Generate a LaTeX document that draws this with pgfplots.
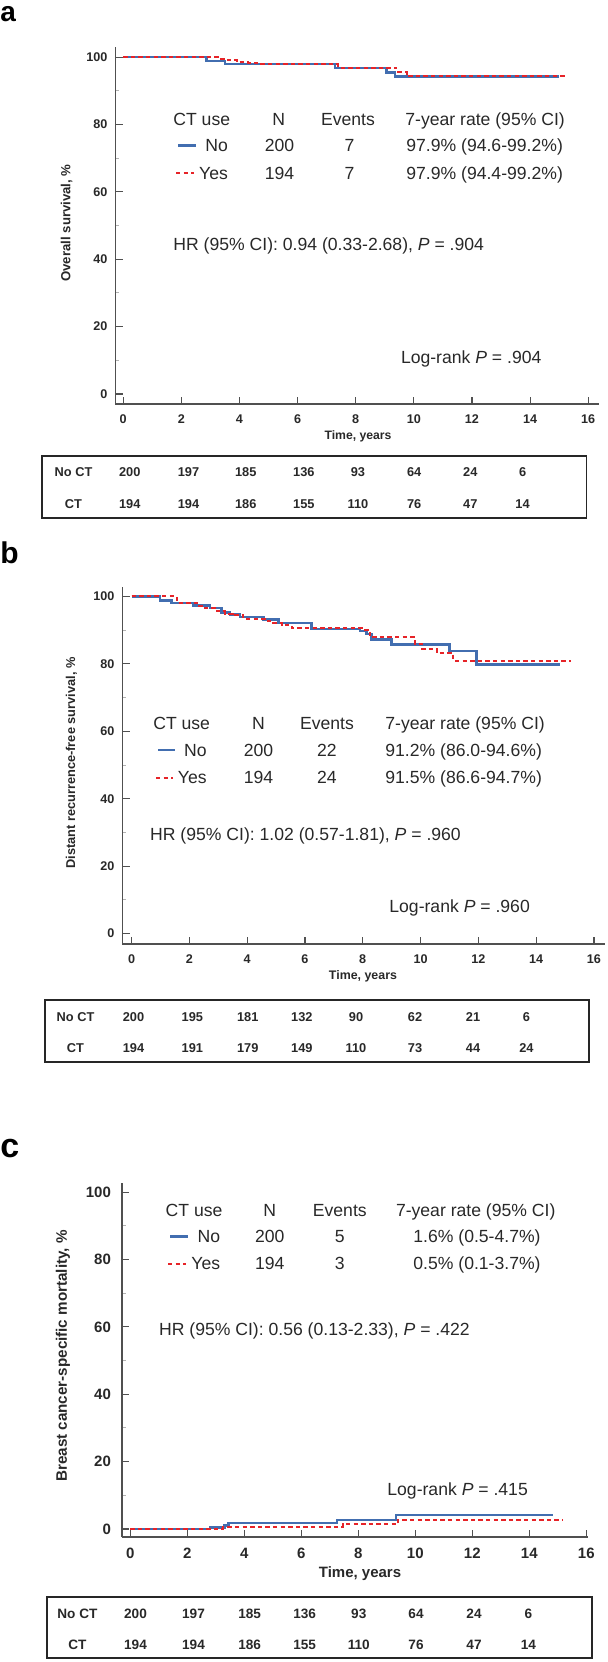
\documentclass[border=0pt]{standalone}
\usepackage{pgfplots}
\pgfplotsset{compat=1.18}
\usepackage{fontspec}
\setmainfont{Liberation Sans}
\definecolor{kmblue}{RGB}{66,110,176}
\definecolor{kmred}{RGB}{230,35,40}
\definecolor{axgray}{RGB}{80,80,80}
\definecolor{txt}{RGB}{40,40,40}
\newcommand{\fsz}[1]{\fontsize{#1}{#1}\selectfont}

\pgfplotsset{
  km/.style={
    scale only axis,
    anchor=south west,
    axis x line=bottom, axis y line=left,
    axis line style={-, draw=axgray, line width=0.8pt},
    x axis line style={-}, y axis line style={-},
    tick align=inside,
    major tick length=3.6pt, minor tick length=2pt,
    every major tick/.style={axgray, line width=0.6pt},
    every minor tick/.style={black!30, line width=0.5pt},
    minor y tick num=1,
    xtick={0,2,...,16}, ytick={0,20,...,100},
    /pgf/number format/assume math mode=true,
    clip=false,
  },
  blueline/.style={const plot, no marks, color=kmblue, line width=1.25pt},
  redline/.style={const plot, no marks, color=kmred, line width=1.0pt, dash pattern=on 2.2pt off 1.6pt},
}

\begin{document}
\begin{tikzpicture}
\path[use as bounding box] (0pt,0pt) rectangle (303.5pt,-831pt);

% ---------------- Panel a ----------------
\begin{axis}[km,
  at={(57.65pt,-202pt)}, width=241.85pt, height=178.5pt,
  xmin=-0.27, xmax=16.37, ymin=-2.97, ymax=103,
  ticklabel style={font=\fsz{6.3}\bfseries, text=txt},
  xticklabel style={yshift=-2pt},
  yticklabel style={xshift=-0.4pt},
]
\addplot[blueline] coordinates {(0,100) (2.87,98.9) (3.5,97.9) (7.29,96.8) (9.06,95.5) (9.35,94.2) (15.0,94.2)};
\addplot[redline] coordinates {(0,100) (3.27,99.5) (3.6,99.0) (3.9,98.5) (4.3,98.2) (4.7,97.9) (7.4,96.9) (9.4,95.7) (9.75,94.4) (15.2,94.4)};
\end{axis}

% ---------------- Panel b ----------------
\begin{axis}[km,
  at={(61.15pt,-472pt)}, width=241.15pt, height=178.5pt,
  xmin=-0.32, xmax=16.37, ymin=-3.1, ymax=102.8,
  ticklabel style={font=\fsz{6.3}\bfseries, text=txt},
  xticklabel style={yshift=-2pt},
  yticklabel style={xshift=-0.4pt},
]
\addplot[blueline] coordinates {(0,100) (0.98,98.8) (1.39,98.0) (2.14,97.3) (2.71,96.6) (3.12,95.3) (3.4,94.6) (3.75,93.9) (4.56,93.1) (5.08,92.1) (6.23,90.4) (7.9,89.7) (8.13,88.9) (8.3,87.2) (9.0,85.8) (11.0,83.8) (11.94,79.8) (14.84,79.8)};
\addplot[redline] coordinates {(0,100) (1.56,98.2) (2.25,97.3) (2.48,96.6) (2.94,95.6) (3.23,94.9) (3.5,94.4) (3.87,93.4) (4.67,92.7) (4.9,92.1) (5.19,91.4) (5.54,90.6) (8.02,90.1) (8.25,88.0) (9.8,86.0) (10.05,84.5) (10.56,83.2) (11.14,81.0) (15.2,81.0)};
\end{axis}

% ---------------- Panel c ----------------
\begin{axis}[km,
  at={(61pt,-768.5pt)}, width=233pt, height=177pt,
  xmin=-0.29, xmax=16.06, ymin=-2.4, ymax=102.7,
  ticklabel style={font=\fsz{7.5}\bfseries, text=txt},
  xticklabel style={yshift=-2pt},
  yticklabel style={xshift=-2pt},
]
\addplot[blueline] coordinates {(0,0) (2.79,0.5) (3.3,1.0) (3.44,1.7) (7.26,2.7) (9.32,4.2) (14.84,4.2)};
\addplot[redline] coordinates {(0,0) (3.26,0.5) (7.45,1.4) (9.4,2.7) (15.18,2.7)};
\end{axis}

\begin{scope}[x=0.5pt,y=-0.5pt, every node/.style={text=txt, inner sep=0pt}]
% panel letters
\node[anchor=base west, font=\fsz{14}\bfseries, text=black] at (0,21) {a};
\node[anchor=base west, font=\fsz{15}\bfseries, text=black] at (0,563) {b};
\node[anchor=base west, font=\fsz{17}\bfseries, text=black] at (0,1157) {c};

% axis labels
\node[rotate=90, font=\fsz{6.6}\bfseries] at (66.7,223) {Overall survival, \%};
\node[rotate=90, font=\fsz{6.4}\bfseries] at (71.5,763) {Distant recurrence-free survival, \%};
\node[rotate=90, font=\fsz{7.6}\bfseries] at (63,1356) {Breast cancer-specific mortality, \%};
\node[anchor=base, font=\fsz{6.1}\bfseries] at (358,439) {Time, years};
\node[anchor=base, font=\fsz{6.2}\bfseries] at (363,979) {Time, years};
\node[anchor=base, font=\fsz{7.5}\bfseries] at (360,1577) {Time, years};

% ---- inset a
\begin{scope}[every node/.append style={font=\fsz{8.8}}]
\node[anchor=base west] at (173,125) {CT use};
\node[anchor=base] at (278.7,125) {N};
\node[anchor=base] at (348,125) {Events};
\node[anchor=base west] at (405,125) {7-year rate (95\% CI)};
\draw[kmblue, line width=1.25pt] (178,145.5) -- (195.5,145.5);
\node[anchor=base east] at (228.3,151.7) {No};
\node[anchor=base] at (279.5,151.7) {200};
\node[anchor=base] at (349.5,151.7) {7};
\node[anchor=base west] at (406,151.7) {97.9\% (94.6-99.2\%)};
\draw[kmred, line width=1.0pt, dash pattern=on 2.2pt off 1.6pt] (176,173) -- (193.5,173);
\node[anchor=base east] at (228.3,179) {Yes};
\node[anchor=base] at (279.5,179) {194};
\node[anchor=base] at (349.5,179) {7};
\node[anchor=base west] at (406,179) {97.9\% (94.4-99.2\%)};
\node[anchor=base west] at (173,250) {HR (95\% CI): 0.94 (0.33-2.68), \textit{P} = .904};
\node[anchor=base west] at (400.6,363) {Log-rank \textit{P} = .904};

% ---- inset b
\node[anchor=base west] at (152.9,729.3) {CT use};
\node[anchor=base] at (258.5,729.3) {N};
\node[anchor=base] at (327,729.3) {Events};
\node[anchor=base west] at (385,729.3) {7-year rate (95\% CI)};
\draw[kmblue, line width=1.25pt] (158,750) -- (175,750);
\node[anchor=base east] at (207,756) {No};
\node[anchor=base] at (258.5,756) {200};
\node[anchor=base] at (327,756) {22};
\node[anchor=base west] at (385,756) {91.2\% (86.0-94.6\%)};
\draw[kmred, line width=1.0pt, dash pattern=on 2.2pt off 1.6pt] (156,777.5) -- (173,777.5);
\node[anchor=base east] at (207,783.3) {Yes};
\node[anchor=base] at (258.5,783.3) {194};
\node[anchor=base] at (327,783.3) {24};
\node[anchor=base west] at (385,783.3) {91.5\% (86.6-94.7\%)};
\node[anchor=base west] at (149.8,840.7) {HR (95\% CI): 1.02 (0.57-1.81), \textit{P} = .960};
\node[anchor=base west] at (389,912.7) {Log-rank \textit{P} = .960};

% ---- inset c
\node[anchor=base west] at (165.3,1216.7) {CT use};
\node[anchor=base] at (269.8,1216.7) {N};
\node[anchor=base] at (339.8,1216.7) {Events};
\node[anchor=base west] at (395.6,1216.7) {7-year rate (95\% CI)};
\draw[kmblue, line width=1.25pt] (170,1236.5) -- (188,1236.5);
\node[anchor=base east] at (220.6,1242.7) {No};
\node[anchor=base] at (269.8,1242.7) {200};
\node[anchor=base] at (339.8,1242.7) {5};
\node[anchor=base] at (477,1242.7) {1.6\% (0.5-4.7\%)};
\draw[kmred, line width=1.0pt, dash pattern=on 2.2pt off 1.6pt] (168,1263.5) -- (186,1263.5);
\node[anchor=base east] at (220.6,1269.3) {Yes};
\node[anchor=base] at (269.8,1269.3) {194};
\node[anchor=base] at (339.8,1269.3) {3};
\node[anchor=base] at (477,1269.3) {0.5\% (0.1-3.7\%)};
\node[anchor=base west] at (158.7,1335) {HR (95\% CI): 0.56 (0.13-2.33), \textit{P} = .422};
\node[anchor=base west] at (387,1495) {Log-rank \textit{P} = .415};
\end{scope}

% ---- tables
\draw[black!85, line width=0.9pt] (41.8,456) rectangle (586.5,518);
\draw[black!85, line width=0.9pt] (45.3,1000) rectangle (589,1062);
\draw[black!85, line width=0.9pt] (47.2,1597) rectangle (592.2,1658);
\begin{scope}[every node/.append style={font=\fsz{6.4}\bfseries}]
\node[anchor=base] at (73.5,476.7) {No CT};
\node[anchor=base] at (73.5,508) {CT};
\foreach \x/\v in {129.7/200,188.5/197,245.8/185,303.9/136,358/93,414.2/64,470.3/24,522.6/6}
  \node[anchor=base] at (\x,476.7) {\v};
\foreach \x/\v in {129.7/194,188.5/194,245.8/186,303.9/155,358/110,414.2/76,470.3/47,522.6/14}
  \node[anchor=base] at (\x,508) {\v};
\node[anchor=base] at (75.5,1021.7) {No CT};
\node[anchor=base] at (75.5,1052.3) {CT};
\foreach \x/\v in {133.5/200,192.4/195,247.7/181,301.9/132,356/90,415/62,473/21,526.4/6}
  \node[anchor=base] at (\x,1021.7) {\v};
\foreach \x/\v in {133.5/194,192.4/191,247.7/179,301.9/149,356/110,415/73,473/44,526.4/24}
  \node[anchor=base] at (\x,1052.3) {\v};
\end{scope}
\begin{scope}[every node/.append style={font=\fsz{6.8}\bfseries}]
\node[anchor=base] at (77.4,1618.3) {No CT};
\node[anchor=base] at (77.4,1649.3) {CT};
\foreach \x/\v in {135.5/200,193.5/197,249.6/185,304.6/136,358.8/93,416/64,474/24,528.4/6}
  \node[anchor=base] at (\x,1618.3) {\v};
\foreach \x/\v in {135.5/194,193.5/194,249.6/186,304.6/155,358.8/110,416/76,474/47,528.4/14}
  \node[anchor=base] at (\x,1649.3) {\v};
\end{scope}
\end{scope}
\end{tikzpicture}
\end{document}
